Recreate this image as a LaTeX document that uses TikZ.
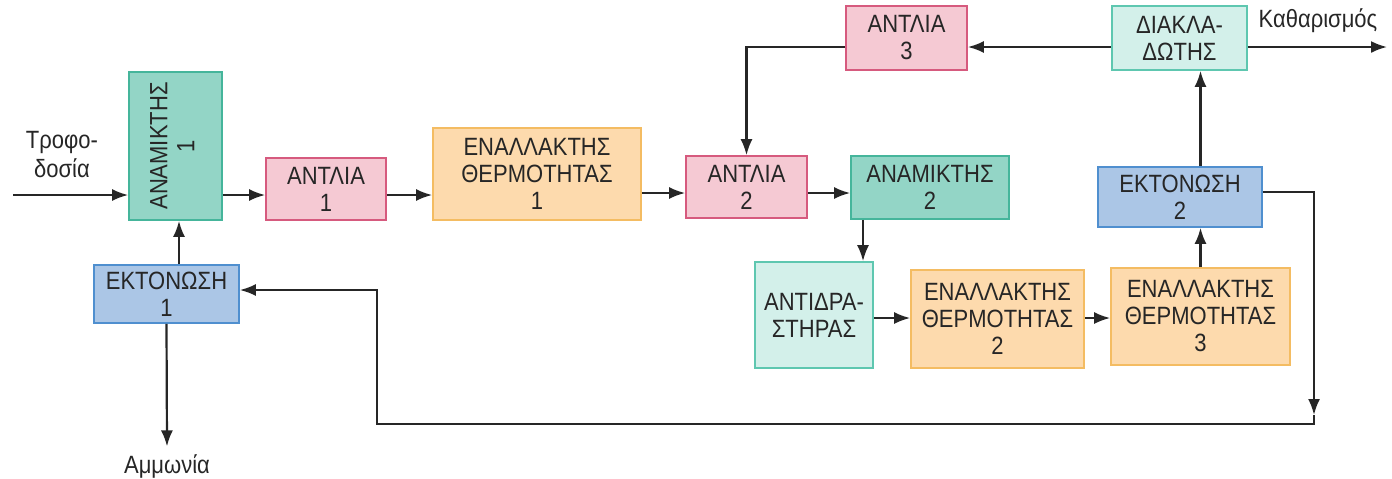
\documentclass[tikz,border=0pt]{standalone}
\usepackage{fontspec}
\setmainfont{Liberation Sans}[FakeStretch=0.88]
\usepackage{graphicx}
\usetikzlibrary{arrows.meta}
\definecolor{ink}{HTML}{262626}
\definecolor{mixfill}{HTML}{93D5C6}
\definecolor{mixline}{HTML}{45B59B}
\definecolor{mintfill}{HTML}{D3F0EA}
\definecolor{mintline}{HTML}{5EC7B0}
\definecolor{pumpfill}{HTML}{F5C9D3}
\definecolor{pumpline}{HTML}{D65A7E}
\definecolor{hxfill}{HTML}{FDDAAD}
\definecolor{hxline}{HTML}{F4BC62}
\definecolor{expfill}{HTML}{ABC6E6}
\definecolor{expline}{HTML}{4F8FCF}
\tikzset{
  unit/.style={draw, line width=0.8pt, inner sep=0pt, align=center, text=ink},
  mixbox/.style={unit, fill=mixfill, draw=mixline},
  mintbox/.style={unit, fill=mintfill, draw=mintline},
  pumpbox/.style={unit, fill=pumpfill, draw=pumpline},
  hxbox/.style={unit, fill=hxfill, draw=hxline},
  expbox/.style={unit, fill=expfill, draw=expline},
  flow/.style={text=ink, align=center}
}
\begin{document}
\begin{tikzpicture}[x=0.5pt, y=-0.5pt, line width=1.1pt, draw=ink,
    >={Latex[length=8pt,width=6pt]},
    every node/.append style={font=\fontsize{12.5}{13.5}\selectfont}]
  \useasboundingbox (0,0) rectangle (1392,478);
  % units (sizes in pt, half the pixel size)
  \node [mixbox, minimum width=46.5pt, minimum height=74pt] (mix1) at (175.5,146)
    {\rotatebox{90}{\begin{tabular}{@{}c@{}}ΑΝΑΜΙΚΤΗΣ\\1\end{tabular}}};
  \node [pumpbox, minimum width=60pt, minimum height=31pt] (pump1) at (326,189) {ΑΝΤΛΙΑ\\1};
  \node [hxbox, minimum width=104pt, minimum height=46pt] (hx1) at (537,174) {ΕΝΑΛΛΑΚΤΗΣ\\ΘΕΡΜΟΤΗΤΑΣ\\1};
  \node [pumpbox, minimum width=60.5pt, minimum height=31pt] (pump2) at (746.5,187) {ΑΝΤΛΙΑ\\2};
  \node [mixbox, minimum width=79pt, minimum height=31.5pt] (mix2) at (930,187.5) {ΑΝΑΜΙΚΤΗΣ\\2};
  \node [mintbox, minimum width=59pt, minimum height=53pt] (react) at (814,315) {ΑΝΤΙΔΡΑ-\\ΣΤΗΡΑΣ};
  \node [hxbox, minimum width=86.5pt, minimum height=49pt] (hx2) at (997.5,319) {ΕΝΑΛΛΑΚΤΗΣ\\ΘΕΡΜΟΤΗΤΑΣ\\2};
  \node [hxbox, minimum width=89.5pt, minimum height=48.5pt] (hx3) at (1200.5,316.5) {ΕΝΑΛΛΑΚΤΗΣ\\ΘΕΡΜΟΤΗΤΑΣ\\3};
  \node [expbox, minimum width=82pt, minimum height=30pt] (exp2) at (1180,197) {ΕΚΤΟΝΩΣΗ\\2};
  \node [mintbox, minimum width=67.5pt, minimum height=32pt] (split) at (1179.5,38) {ΔΙΑΚΛΑ-\\ΔΩΤΗΣ};
  \node [pumpbox, minimum width=60.5pt, minimum height=32pt] (pump3) at (906.5,38) {ΑΝΤΛΙΑ\\3};
  \node [expbox, minimum width=72.5pt, minimum height=29pt] (exp1) at (166.5,294) {ΕΚΤΟΝΩΣΗ\\1};
  % streams in and out
  \node [flow, font=\fontsize{12.5}{14.5}\selectfont] (feedlabel) at (62,155) {Τροφο-\\δοσία};
  \node [flow] (nh3) at (167,466) {Αμμωνία};
  \node [flow] (purgelabel) at (1318,21) {Καθαρισμός};
  \coordinate (feed) at (13,195);
  \coordinate (line2) at (0,193);
  \coordinate (line3) at (0,318);
  \coordinate (top) at (0,47);
  \coordinate (purge) at (1387,47);
  \coordinate (drop) at (863,0);
  \coordinate (up1) at (179,0);
  \coordinate (retdown) at (1314,415);
  \coordinate (back) at (377,424);
  \coordinate (backin) at (377,290);
  % main line
  \draw [->] (feed) -- (mix1.west |- feed);
  \draw [->] (mix1.east |- feed) -- (pump1.west |- feed);
  \draw [->] (pump1.east |- feed) -- (hx1.west |- feed);
  \draw [->] (hx1.east |- line2) -- (pump2.west |- line2);
  \draw [->] (pump2.east |- line2) -- (mix2.west |- line2);
  \draw [->] (mix2.south -| drop) -- (react.north -| drop);
  \draw [->] (react.east |- line3) -- (hx2.west |- line3);
  \draw [->] (hx2.east |- line3) -- (hx3.west |- line3);
  \draw [->] (hx3.north) -- (hx3.north |- exp2.south);
  \draw [->] (exp2.north -| hx3.north) -- (split.south -| hx3.north);
  \draw [->] (split.east |- top) -- (purge);
  \draw [->] (split.west |- top) -- (pump3.east |- top);
  \draw [->] (pump3.west |- top) -| (pump2.north);
  % recycle to the first expander
  \draw [->] (exp2.east |- 0,192) -| (retdown);
  \draw [->] (retdown) |- (back) -- (backin) -- (exp1.east |- backin);
  \draw [->] (exp1.north -| up1) -- (mix1.south -| up1);
  \draw [->] (exp1.south) -- (nh3.north);
\end{tikzpicture}
\end{document}
